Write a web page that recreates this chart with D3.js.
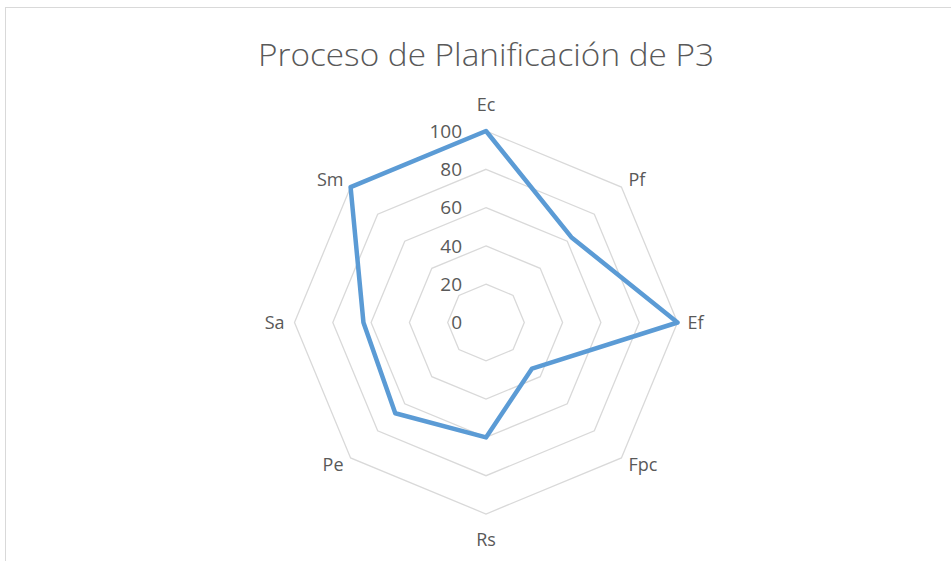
<!DOCTYPE html>
<html>
<head>
<meta charset="utf-8">
<script src="https://cdn.jsdelivr.net/npm/d3@7"></script>
<style>
  body { margin: 0; background: #fff; }
  text { font-family: "Open Sans", sans-serif; fill: #595959; }
</style>
</head>
<body>
<div id="chart"></div>
<script>
var svgWidth = 951;
var svgHeight = 561;

var title = "Proceso de Planificación de P3";
var categories = ["Ec", "Pf", "Ef", "Fpc", "Rs", "Pe", "Sa", "Sm"];
var values = [100, 63, 100, 34, 60, 67, 64, 100];
var ticks = [0, 20, 40, 60, 80, 100];

var cx = 486, cy = 322.5, radius = 191.5;

var svg = d3.select("#chart")
  .append("svg")
  .attr("width", svgWidth)
  .attr("height", svgHeight);

// chart area border
svg.append("rect")
  .attr("x", 5.5).attr("y", 7.5)
  .attr("width", 960).attr("height", 600)
  .attr("fill", "none")
  .attr("stroke", "#d9d9d9");

svg.append("text")
  .attr("x", cx).attr("y", 66)
  .attr("text-anchor", "middle")
  .attr("textLength", 456)
  .attr("lengthAdjust", "spacingAndGlyphs")
  .style("font-size", "31px")
  .style("font-weight", 300)
  .text(title);

var rScale = d3.scaleLinear().domain([0, 100]).range([0, radius]);
var angle = d3.scalePoint().domain(categories).range([0, 2 * Math.PI * 7 / 8]);

var g = svg.append("g").attr("transform", `translate(${cx}, ${cy})`);

function pt(cat, v) {
  var a = angle(cat);
  return [rScale(v) * Math.sin(a), -rScale(v) * Math.cos(a)];
}

var gridLine = d3.line();

// octagon grid
ticks.filter(t => t > 0).forEach(function(t) {
  g.append("path")
    .attr("d", gridLine(categories.map(c => pt(c, t))) + "Z")
    .attr("fill", "none")
    .attr("stroke", "#d9d9d9")
    .attr("stroke-width", 1.3);
});

// tick labels
g.selectAll(".tick").data(ticks).enter()
  .append("text")
  .attr("class", "tick")
  .attr("x", -24)
  .attr("y", d => -rScale(d))
  .attr("dy", "0.35em")
  .attr("text-anchor", "end")
  .style("font-size", "19px")
  .text(d => d);

// category labels, placed just outside the outer ring
var labelR = radius + 10;
g.selectAll(".cat").data(categories).enter()
  .append("text")
  .attr("class", "cat")
  .attr("x", d => labelR * Math.sin(angle(d)))
  .attr("y", function(d) {
    var c = Math.cos(angle(d));
    var y = -labelR * c;
    if (Math.abs(c) > 0.9) y -= c * 16;
    return y;
  })
  .attr("dy", "0.35em")
  .attr("text-anchor", function(d) {
    var s = Math.sin(angle(d));
    return s > 0.1 ? "start" : (s < -0.1 ? "end" : "middle");
  })
  .style("font-size", "18px")
  .text(d => d);

// data line
g.append("path")
  .attr("d", gridLine(categories.map((c, i) => pt(c, values[i]))) + "Z")
  .attr("fill", "none")
  .attr("stroke", "#5b9bd5")
  .attr("stroke-width", 4.5)
  .attr("stroke-linejoin", "round");
</script>
</body>
</html>
